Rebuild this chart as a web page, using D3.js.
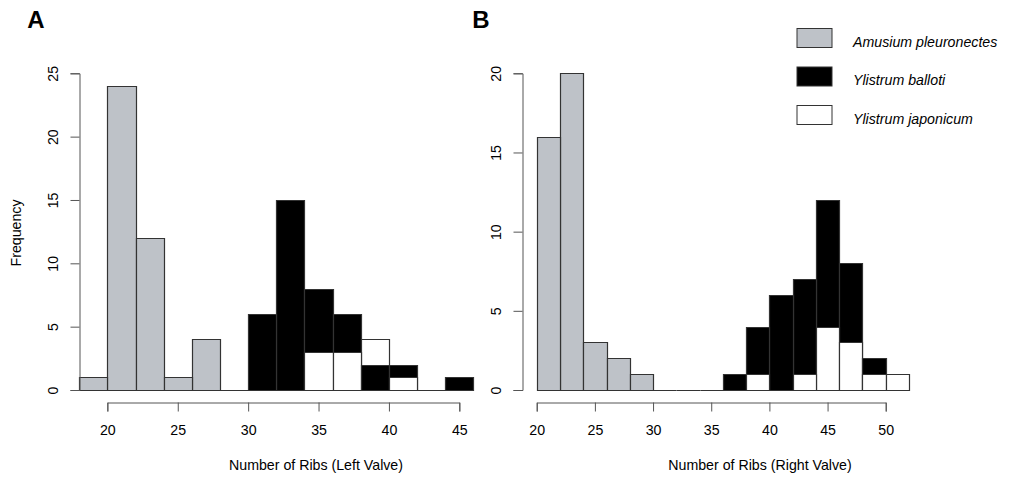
<!DOCTYPE html>
<html>
<head>
<meta charset="utf-8">
<script src="https://cdn.jsdelivr.net/npm/d3@7"></script>
<style>
  body { margin: 0; background: #fff; }
  text { font-family: "Liberation Sans", Arial, sans-serif; fill: #000; }
</style>
</head>
<body>
<div id="chart"></div>
<script>
// Histogram counts, bin width 2 ribs. Each series starts at its own break.
const binWidth = 2;
const species = ['Amusium pleuronectes', 'Ylistrum balloti', 'Ylistrum japonicum'];
const speciesFill = ['#bec2c8', '#000000', '#ffffff'];

// Left valve (panel A)
const leftStarts = [18, 30, 34];
const amusiumLeft = [1, 24, 12, 1, 4, 0];
const ballotiLeft = [6, 15, 8, 6, 2, 2, 0, 1];
const japonicumLeft = [3, 3, 4, 1];

// Right valve (panel B)
const rightStarts = [20, 30, 38];
const amusiumRight = [16, 20, 3, 2, 1];
const ballotiRight = [0, 0, 0, 1, 4, 6, 7, 12, 8, 2];
const japonicumRight = [1, 0, 1, 4, 3, 1, 1];

const xTicksA = [20, 25, 30, 35, 40, 45];
const yTicksA = [0, 5, 10, 15, 20, 25];
const xTicksB = [20, 25, 30, 35, 40, 45, 50];
const yTicksB = [0, 5, 10, 15, 20];

const svg = d3.select('#chart').append('svg')
  .attr('width', 1011)
  .attr('height', 479);

const axisColor = '#555';
const fontSize = 14.2;

function drawPanel(opt) {
  const x = d3.scaleLinear().domain(opt.xDomain).range(opt.xRange);
  const y = d3.scaleLinear().domain([0, opt.yMax]).range([390, 73.3]);

  // collect bars; taller bars go behind shorter ones
  const bars = [];
  opt.series.forEach((counts, s) => {
    counts.forEach((c, i) => {
      const lo = opt.starts[s] + i * binWidth;
      bars.push({ s, lo, hi: lo + binWidth, c });
    });
  });
  bars.sort((a, b) => b.c - a.c);

  const g = svg.append('g');
  g.selectAll('path.bar')
    .data(bars).enter()
    .append('path')
    .attr('class', 'bar')
    .attr('d', (d) => {
      const x0 = Math.round(x(d.lo)) + 0.5;
      const x1 = Math.round(x(d.hi)) + 0.5;
      const y0 = Math.round(y(0)) + 0.5;
      const y1 = Math.round(y(d.c)) + 0.5;
      return `M${x0},${y0}V${y1}H${x1}V${y0}Z`;
    })
    .attr('fill', (d) => speciesFill[d.s])
    .attr('stroke', '#333')
    .attr('stroke-width', 1.2);

  // x axis only spans the first to last tick, as in R
  const t0 = opt.xTicks[0];
  const t1 = opt.xTicks[opt.xTicks.length - 1];
  const xAxisScale = d3.scaleLinear().domain([t0, t1]).range([x(t0), x(t1)]);
  const xa = g.append('g')
    .attr('transform', 'translate(0,402.5)')
    .call(d3.axisBottom(xAxisScale).tickValues(opt.xTicks).tickSizeOuter(0).tickSize(9).tickPadding(13));
  xa.selectAll('path, line').attr('stroke', axisColor);
  xa.selectAll('text').attr('font-size', fontSize).attr('fill', '#000')
    .style('font-family', '"Liberation Sans", Arial, sans-serif');

  const ya = g.append('g')
    .attr('transform', `translate(${Math.round(opt.xRange[0]) + 0.5},0)`)
    .call(d3.axisLeft(y).tickValues(opt.yTicks).tickSizeOuter(0).tickSize(9));
  ya.selectAll('path, line').attr('stroke', axisColor);
  ya.selectAll('text')
    .attr('font-size', fontSize)
    .attr('fill', '#000')
    .style('font-family', '"Liberation Sans", Arial, sans-serif')
    .attr('text-anchor', 'middle')
    .attr('transform', 'rotate(-90)')
    .attr('x', 0)
    .attr('y', -26)
    .attr('dy', '0.35em');

  g.append('text')
    .attr('x', opt.labelX)
    .attr('y', 470)
    .attr('text-anchor', 'middle')
    .attr('font-size', fontSize)
    .text(opt.xLabel);

  g.append('text')
    .attr('x', opt.letterX)
    .attr('y', 28)
    .attr('text-anchor', 'middle')
    .attr('font-size', 24)
    .attr('font-weight', 'bold')
    .text(opt.letter);
}

drawPanel({
  xDomain: [18, 46],
  xRange: [79.2, 473.4],
  yMax: 25,
  starts: leftStarts,
  series: [amusiumLeft, ballotiLeft, japonicumLeft],
  xTicks: xTicksA,
  yTicks: yTicksA,
  xLabel: 'Number of Ribs (Left Valve)',
  labelX: 316,
  letter: 'A',
  letterX: 36
});

drawPanel({
  xDomain: [18.76, 52],
  xRange: [522.3, 909],
  yMax: 20,
  starts: rightStarts,
  series: [amusiumRight, ballotiRight, japonicumRight],
  xTicks: xTicksB,
  yTicks: yTicksB,
  xLabel: 'Number of Ribs (Right Valve)',
  labelX: 760,
  letter: 'B',
  letterX: 481
});

// y label
svg.append('text')
  .attr('transform', 'translate(21,233) rotate(-90)')
  .attr('text-anchor', 'middle')
  .attr('font-size', fontSize)
  .text('Frequency');

// legend
const legendY = [28.5, 67, 105.5];
const legend = svg.append('g');
legend.selectAll('rect')
  .data(species).enter()
  .append('rect')
  .attr('x', 797)
  .attr('y', (d, i) => legendY[i])
  .attr('width', 35)
  .attr('height', 19)
  .attr('fill', (d, i) => speciesFill[i])
  .attr('stroke', '#333');
legend.selectAll('text')
  .data(species).enter()
  .append('text')
  .attr('x', 853)
  .attr('y', (d, i) => legendY[i] + 18)
  .attr('font-size', fontSize)
  .attr('font-style', 'italic')
  .text((d) => d);
</script>
</body>
</html>
